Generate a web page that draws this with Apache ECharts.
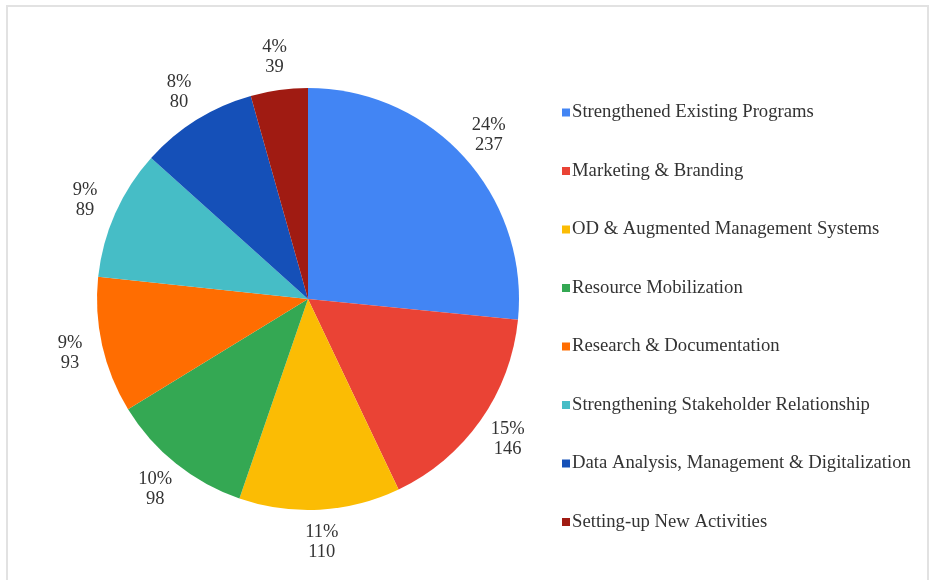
<!DOCTYPE html>
<html>
<head>
<meta charset="utf-8">
<script src="https://cdn.jsdelivr.net/npm/echarts@6/dist/echarts.min.js"></script>
<style>
  html, body { margin: 0; padding: 0; background: #fff; }
  #chart { width: 930px; height: 580px; }
</style>
</head>
<body>
<div id="chart"></div>
<script>
// Activity categories and their counts
const categories = [
  'Strengthened Existing Programs',
  'Marketing & Branding',
  'OD & Augmented Management Systems',
  'Resource Mobilization',
  'Research & Documentation',
  'Strengthening Stakeholder Relationship',
  'Data Analysis, Management & Digitalization',
  'Setting-up New Activities'
];
const counts = [237, 146, 110, 98, 93, 89, 80, 39];
const percentLabels = ['24%', '15%', '11%', '10%', '9%', '9%', '8%', '4%'];
const colors = ['#4285F4', '#EA4335', '#FBBC04', '#34A853', '#FF6D01', '#46BDC6', '#1550B8', '#A01B12'];

const serif = '"Liberation Serif", "Times New Roman", serif';
const textColor = '#333333';

const chart = echarts.init(document.getElementById('chart'), null, { renderer: 'canvas' });

chart.setOption({
  backgroundColor: '#ffffff',
  animation: false,
  color: colors,
  graphic: [
    {
      type: 'polyline',
      shape: { points: [[7, 580], [7, 6], [928, 6], [928, 580]] },
      style: { stroke: '#e2e2e2', lineWidth: 2, fill: null }
    }
  ],
  legend: {
    orient: 'vertical',
    left: 557,
    top: 98,
    itemWidth: 8,
    itemHeight: 8,
    itemGap: 39.5,
    icon: 'rect',
    data: categories,
    textStyle: {
      fontFamily: serif,
      fontSize: 18.7,
      lineHeight: 18,
      color: textColor,
      padding: [0, 0, 0, -3]
    }
  },
  series: [
    {
      type: 'pie',
      center: [308, 299],
      radius: 211,
      startAngle: 90,
      clockwise: true,
      avoidLabelOverlap: false,
      data: categories.map((name, i) => ({ name, value: counts[i] })),
      label: {
        show: true,
        position: 'outside',
        distanceToLabelLine: 0,
        fontFamily: serif,
        fontSize: 18.5,
        lineHeight: 20,
        color: textColor,
        formatter: (p) => percentLabels[p.dataIndex] + '\n' + p.value
      },
      labelLine: { show: false, length: 33, length2: 0 },
      labelLayout: { align: 'center', verticalAlign: 'middle' },
      itemStyle: { borderWidth: 0 },
      emphasis: { disabled: true }
    }
  ]
});
</script>
</body>
</html>
